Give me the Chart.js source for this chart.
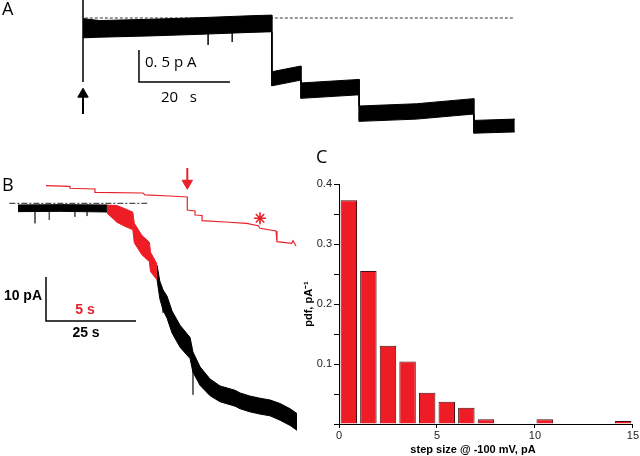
<!DOCTYPE html>
<html>
<head>
<meta charset="utf-8">
<script src="https://cdn.jsdelivr.net/npm/chart.js@4.4.1/dist/chart.umd.min.js"></script>
<style>
  body { margin: 0; width: 640px; height: 456px; background: #fff; position: relative; overflow: hidden; }
  canvas { position: absolute; }
  .lbl { position: absolute; line-height: 1; white-space: pre; color: #000; }
  .open { font-family: "Open Sans", sans-serif; }
  .bold { font-family: "Liberation Sans", Arial, sans-serif; font-weight: bold; }
</style>
</head>
<body>
<canvas id="chartA" width="640" height="150" style="left:0;top:0"></canvas>
<canvas id="chartB" width="310" height="306" style="left:0;top:150px"></canvas>
<canvas id="chartC" width="342" height="306" style="left:298px;top:150px"></canvas>

<div class="lbl open" style="left:2px;top:-1px;font-size:18px">A</div>
<div class="lbl open" style="left:2px;top:175px;font-size:18px">B</div>
<div class="lbl open" style="left:316px;top:147px;font-size:18px">C</div>
<div class="lbl open" style="left:145px;top:54px;font-size:15px">0. 5 p A</div>
<div class="lbl open" style="left:161px;top:89px;font-size:15px">20   s</div>
<div class="lbl bold" style="left:0;width:42px;text-align:right;top:288px;font-size:14px">10 pA</div>
<div class="lbl bold" style="left:60px;width:50px;text-align:center;top:302px;font-size:14px;color:#e5222b">5 s</div>
<div class="lbl bold" style="left:60px;width:52px;text-align:center;top:325px;font-size:14px">25 s</div>
<div class="lbl bold" style="left:373px;width:200px;text-align:center;top:444px;font-size:11px">step size @ -100 mV, pA</div>

<script>
const black = '#000000'
const red = '#e8222a'
const spikeGrey = '#555555'

// ---- panel A : unitary steps, time in s, current in pA (dashed line = 0)
const aTime  = [0, 3.7, 14.7, 25.7, 36.7, 41.5, 41.5, 47.9, 47.9, 60.7, 60.7, 73.3, 85.9, 85.9, 94.9]
const aLevel = [-0.16, -0.17, -0.15, -0.125, -0.095, -0.085, -0.95, -0.86, -1.135, -1.08, -1.495, -1.46, -1.38, -1.70, -1.68]
const aNoise = [0.15, 0.13, 0.13, 0.13, 0.13, 0.13, 0.11, 0.11, 0.12, 0.12, 0.12, 0.12, 0.12, 0.10, 0.10]
const aSpikeT    = [0, 27.5, 32.8]
const aSpikeFrom = [0.28, -0.12, -0.11]
const aSpikeTo   = [-1.0, -0.42, -0.375]
const aBaseT = [0.4, 94.9]
const aBarT = [12.3, 32.3]        // 20 s
const aBarI = [-1.0, -0.5]        // 0.5 pA
const aArrowI = [-1.5, -1.19]     // arrow at t = 0

// ---- panel B : macroscopic trace, time in s, current in pA
const bTime1  = [0, 11.7, 24.7]
const bLevel1 = [-1.14, -1.07, -1.18]
const bNoise1 = [0.76, 0.76, 0.8]
const bTimeR  = [24.7, 27.5, 29.7, 31.9, 32.3, 34.4, 36.5, 36.8, 38.6]
const bLevelR = [-1.3, -2.43, -3.23, -4.02, -6.75, -9.48, -11.07, -13.3, -15.6]
const bNoiseR = [0.9, 1.9, 2.0, 2.0, 2.2, 2.2, 2.2, 2.2, 1.8]
const bTime2  = [38.6, 39.4, 40.3, 41.4, 42.8, 45, 47.8, 48.6, 50.6, 53.3, 56.1, 60.3, 61.7, 64.4, 67.2, 70, 72.8, 75.6, 77.5]
const bLevel2 = [-15.6, -19.7, -22.0, -23.6, -27.0, -30.2, -32.9, -36.1, -39.3, -41.8, -43.3, -44.3, -44.9, -45.6, -46.1, -46.5, -47.4, -48.6, -49.7]
const bNoise2 = [1.6, 2.0, 2.3, 2.5, 2.5, 2.5, 2.4, 2.3, 2.1, 1.9, 1.8, 1.8, 1.8, 1.8, 1.8, 1.8, 1.9, 1.9, 1.9]
const bSpikeT    = [4.72, 8.7, 15.8, 19.2, 40.3, 48.6]
const bSpikeFrom = [-1.1, -1.1, -1.1, -1.1, -22.0, -36.1]
const bSpikeTo   = [-4.55, -3.8, -3.05, -2.9, -24.9, -43.5]
const bRefT = [-2.4, 35.9]
const bBarT = [7.78, 32.78]       // 25 s (5 s on the red trace)
const bBarI = [-26.75, -16.75]    // 10 pA

// red trace: the red stretch above on a 5x expanded time axis
const redTime = [24.72, 26.05, 26.05, 27.44, 27.44, 30.11, 30.22, 31.61, 32.57, 32.57, 33.0, 33.0, 33.39, 33.39, 34.67, 35.87, 36.5, 36.61, 37.5, 37.55, 38.37, 38.44, 38.61]
const redI    = [-1.0, -1.14, -1.59, -1.75, -2.5, -2.66, -3.11, -3.34, -3.57, -6.52, -6.75, -7.66, -7.77, -8.95, -9.25, -9.55, -10.09, -10.68, -11.3, -13.73, -14.09, -13.5, -14.7]
const redShift = 5                // pA, vertical offset of the red trace
const redArrowT = 32.57
const redArrowI = [8.0, 4.55]
const starT = 36.61
const starI = -3.4

// ---- panel C : step size histogram
const binStart = [0, 1, 2, 3, 4, 5, 6, 7, 10, 14]
const pdf = [0.373, 0.255, 0.1305, 0.104, 0.052, 0.037, 0.027, 0.008, 0.008, 0.005]


function pts(xs, ys) {
    return xs.map((x, i) => ({x: x, y: ys[i]}))
}

function envelope(t, mid, hw, color, axis) {
    var up = t.map((x, i) => ({x: x, y: mid[i] + hw[i]}))
    var lo = t.map((x, i) => ({x: x, y: mid[i] - hw[i]}))
    return [{
        data: up, xAxisID: axis, borderColor: color, backgroundColor: color,
        borderWidth: 1, fill: '+1'
    }, {
        data: lo, xAxisID: axis, borderColor: color, backgroundColor: color,
        borderWidth: 1, fill: false
    }]
}

function spikes(t, from, to, color, axis) {
    var data = []
    for (var i = 0; i < t.length; i++) {
        data.push({x: t[i], y: from[i]}, {x: t[i], y: to[i]}, {x: t[i], y: null})
    }
    return {data: data, xAxisID: axis, borderColor: color, borderWidth: 1, fill: false}
}

function arrow(t, ys, color, rot, axis) {
    return {
        data: [{x: t, y: ys[0]}, {x: t, y: ys[1]}], xAxisID: axis,
        borderColor: color, borderWidth: 2, fill: false,
        pointRadius: [0, 6], pointStyle: 'triangle', rotation: rot,
        pointBackgroundColor: color, pointBorderColor: color, pointBorderWidth: 1
    }
}

function scaleBar(ts, is, axis) {
    return {
        data: [{x: ts[0], y: is[1]}, {x: ts[0], y: is[0]}, {x: ts[1], y: is[0]}],
        xAxisID: axis, borderColor: black, borderWidth: 1.5, fill: false
    }
}

function traceOptions(scales) {
    return {
        responsive: false, animation: false, devicePixelRatio: 1, events: [],
        layout: {padding: 0, autoPadding: false},
        plugins: {legend: {display: false}, tooltip: {enabled: false}},
        elements: {point: {radius: 0}, line: {tension: 0}},
        scales: scales
    }
}


// panel A
var dsA = envelope(aTime, aLevel, aNoise, black, 'x')
dsA.push(spikes(aSpikeT, aSpikeFrom, aSpikeTo, '#222222', 'x'))
dsA.push({
    data: pts(aBaseT, [0, 0]), xAxisID: 'x', borderColor: '#333333',
    borderWidth: 1, borderDash: [3, 2], fill: false
})
dsA.push(scaleBar(aBarT, aBarI, 'x'))
dsA.push(arrow(0, aArrowI, black, 0, 'x'))

new Chart(document.getElementById('chartA'), {
    type: 'line',
    data: {datasets: dsA},
    options: traceOptions({
        x: {type: 'linear', display: false, min: -18.242, max: 122.418},
        y: {type: 'linear', display: false, min: -2.0625, max: 0.28125}
    })
})


// panel B
var dsB = []
dsB = dsB.concat(envelope(bTime1, bLevel1, bNoise1, black, 'x'))
dsB = dsB.concat(envelope(bTimeR, bLevelR, bNoiseR, '#ee1c25', 'x'))
dsB = dsB.concat(envelope(bTime2, bLevel2, bNoise2, black, 'x'))
dsB.push(spikes(bSpikeT, bSpikeFrom, bSpikeTo, spikeGrey, 'x'))
dsB.push({
    data: pts(bRefT, [0, 0]), xAxisID: 'x', borderColor: '#222222',
    borderWidth: 1, borderDash: [6, 2, 2, 2], fill: false
})
dsB.push({
    data: pts(redTime, redI.map(v => v + redShift)), xAxisID: 'x2',
    borderColor: red, borderWidth: 1.2, fill: false
})
dsB.push(arrow(redArrowT, redArrowI, red, 180, 'x2'))
dsB.push({
    data: [{x: starT, y: starI}], xAxisID: 'x2', showLine: false,
    pointRadius: 6, pointStyle: 'star', pointBorderColor: red, pointBorderWidth: 1.6
})
dsB.push(scaleBar(bBarT, bBarI, 'x'))

new Chart(document.getElementById('chartB'), {
    type: 'line',
    data: {datasets: dsB},
    options: traceOptions({
        x: {type: 'linear', display: false, min: -5, max: 81.111},
        x2: {type: 'linear', display: false, min: 22.164, max: 39.386},
        y: {type: 'linear', display: false, min: -57.43, max: 12.11}
    })
})


// panel C
var tickFont = {family: 'Liberation Sans', size: 11}

new Chart(document.getElementById('chartC'), {
    type: 'bar',
    data: {
        datasets: [{
            data: binStart.map((b, i) => ({x: b + 0.5, y: pdf[i]})),
            backgroundColor: '#ee1c25',
            borderColor: '#4a0b0f',
            borderWidth: 1,
            barPercentage: 0.84,
            categoryPercentage: 1
        }]
    },
    options: {
        responsive: false, animation: false, devicePixelRatio: 1, events: [],
        layout: {padding: {top: 34, right: 7, left: 0, bottom: 0}},
        plugins: {legend: {display: false}, tooltip: {enabled: false}},
        scales: {
            x: {
                type: 'linear', min: 0, max: 15, offset: false,
                grid: {offset: false, drawOnChartArea: false, tickLength: 4, color: black},
                border: {color: black, width: 1},
                ticks: {stepSize: 5, padding: 1, maxRotation: 0, font: tickFont, color: '#222222'},
                afterFit: function (s) { s.height = 32 }
            },
            y: {
                type: 'linear', min: 0, max: 0.4,
                grid: {drawOnChartArea: false, tickLength: 5, color: black},
                border: {color: black, width: 1},
                ticks: {
                    stepSize: 0.05, padding: 2, font: tickFont, color: '#222222',
                    callback: function (v) {
                        var k = Math.round(v * 100)
                        return (k > 0 && k % 10 === 0) ? (k / 100).toFixed(1) : ''
                    }
                },
                title: {
                    display: true, text: 'pdf, pA⁻¹', color: black,
                    font: {family: 'Liberation Sans', size: 11, weight: 'bold'},
                    padding: {top: 4, bottom: 0}
                },
                afterFit: function (s) { s.width = 41 }
            }
        }
    }
})
</script>
</body>
</html>
